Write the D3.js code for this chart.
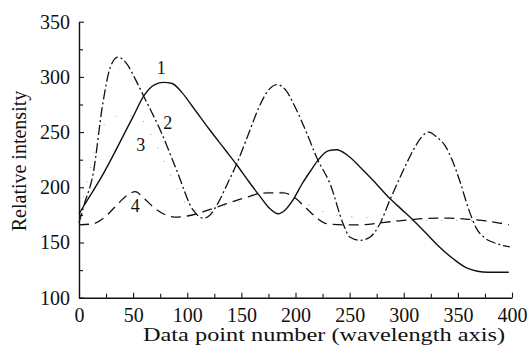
<!DOCTYPE html>
<html><head><meta charset="utf-8">
<script src="https://cdn.jsdelivr.net/npm/d3@7"></script>
<style>
body{margin:0;background:#fff;}
svg{display:block;}
</style></head>
<body><svg id="c" width="531" height="350"></svg>
<script>
// ---- data ----
const xTicks = [0,50,100,150,200,250,300,350,400];
const yTicks = [100,150,200,250,300,350];
const xTitle = "Data point number (wavelength axis)";
const yTitle = "Relative intensity";

const s1x = [0,10,20,30,40,50,60,70,78,86,95,105,120,135,146,157,167,176,184,190,198,206,214,222,230,238,248,260,272,286,298,309,320,333,346,358,368,378,397];
const s1y = [176,192,208,226,245,264,283,293,295,294,286,273,253,234,220,205,192,181,176,179,189,203,215,226,233,234,229,218,206,191,180,170,159,146,135,127,124,123,123];

const s2x = [0,5,13,22,29,36,44,52,60,75,90,105,115,120,128,137,146,158,166,175,183,191,200,210,220,232,244,250,260,269,278,287,298,309,316,323,331,338,345,352,360,367,375,383,398];
const s2y = [168,185,212,276,309,318,312,298,282,252,216,180,172,174,185,203,222,252,272,288,293,288,272,250,226,203,167,155,152,155,167,188,212,234,245,250,245,238,224,205,180,163,154,150,146];

const s3x = [0,5,10,18,28,40,55,65,78,90,104,120,135,147,165,185,210,235,259,300,350,398];
const s3y = [178,195,215,245,262,265,264,250,225,200,180,178,183,187,195,196,185,175,173,170,170,168];

const s4x = [0,13,25,35,45,52,60,70,80,88,100,112,130,145,155,165,175,189,200,210,220,229,245,260,280,300,310,330,343,360,380,397];
const s4y = [166,167,174,184,193,196,190,181,175,173,174,177,183,188,191,194,195,195,190,181,172,167,166,166,168,170,171,172,172,171,169,166];

const seriesLabels = ["1","2","3","4"];
const labelX = [76,82,57,52];
const labelY = [303,253,233,178];

// ---- chart ----
const FONT = "'Liberation Serif','Times New Roman',Tinos,serif";
const svg = d3.select("#c");
const x = d3.scaleLinear().domain([0,400]).range([79,512]);
const y = d3.scaleLinear().domain([100,350]).range([297.7,21.7]);

const line = d3.line().x(d=>x(d[0])).y(d=>y(d[1])).curve(d3.curveMonotoneX);
const zip = (a,b)=>a.map((v,i)=>[v,b[i]]);

const styles = [
  {dash:null, w:1.4, c:"#111"},
  {dash:"10,3,2,3", w:1.3, c:"#111"},
  {dash:"1,14", w:1.1, c:"#aaa"},
  {dash:"10,6", w:1.3, c:"#111"}
];
const series = [zip(s1x,s1y), zip(s2x,s2y), zip(s3x,s3y), zip(s4x,s4y)];
[2,3,1,0].forEach(i=>{
  svg.append("path").datum(series[i])
    .attr("d",line).attr("fill","none")
    .attr("stroke",styles[i].c).attr("stroke-width",styles[i].w)
    .attr("stroke-dasharray",styles[i].dash);
});

// axes
const fs = 20;
svg.append("g").attr("transform",`translate(0,${y(100)})`)
  .call(d3.axisBottom(x).tickValues(xTicks).tickSizeInner(-5).tickSizeOuter(0).tickPadding(10));
svg.append("g").attr("transform",`translate(0,${y(100)})`)
  .call(d3.axisBottom(x).tickValues(d3.range(25,400,50)).tickSize(-4).tickFormat(""))
  .select(".domain").remove();
svg.append("g").attr("transform",`translate(${x(0)},0)`)
  .call(d3.axisLeft(y).tickValues(yTicks).tickSizeInner(-5).tickSizeOuter(0).tickPadding(9));
svg.append("g").attr("transform",`translate(${x(0)},0)`)
  .call(d3.axisLeft(y).tickValues(d3.range(125,350,50)).tickSize(-4).tickFormat(""))
  .select(".domain").remove();
svg.selectAll(".domain").attr("stroke","#111").attr("stroke-width",1.4);
svg.selectAll(".tick line").attr("stroke","#111").attr("stroke-width",1.1);
svg.selectAll(".tick text").style("font-family",FONT).style("font-size",fs+"px").attr("fill","#111");

svg.append("text").attr("x",324).attr("y",341).attr("text-anchor","middle")
  .style("font-family",FONT).style("font-size","19px").attr("fill","#111")
  .attr("textLength",362).attr("lengthAdjust","spacingAndGlyphs").text(xTitle);
svg.append("text").attr("transform","translate(26,161) rotate(-90)").attr("text-anchor","middle")
  .style("font-family",FONT).style("font-size","20px").attr("fill","#111").text(yTitle);

// series labels
seriesLabels.forEach((t,i)=>{
  svg.append("text").attr("x",x(labelX[i])).attr("y",y(labelY[i])).attr("text-anchor","middle")
    .style("font-family",FONT).style("font-size","18px").attr("fill","#111").text(t);
});
</script></body></html>
